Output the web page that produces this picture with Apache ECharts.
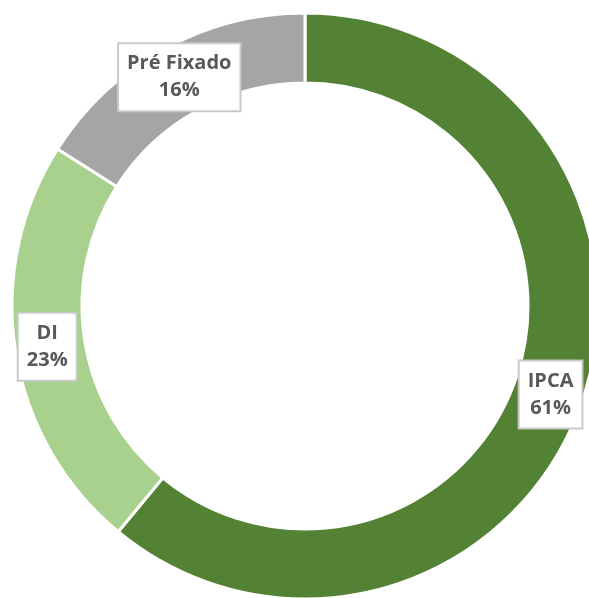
<!DOCTYPE html>
<html>
<head>
<meta charset="utf-8">
<script src="https://cdn.jsdelivr.net/npm/echarts@6/dist/echarts.min.js"></script>
<style>
  html, body { margin: 0; padding: 0; background: #fff; }
  #chart { width: 589px; height: 598px; }
</style>
</head>
<body>
<div id="chart"></div>
<script>
const categories = ["IPCA", "DI", "Pré Fixado"];
const shares = [61, 23, 16];
const colors = ["#548235", "#A9D18E", "#A5A5A5"];

const chart = echarts.init(document.getElementById("chart"));

const option = {
  animation: false,
  series: [
    {
      type: "pie",
      center: [305, 306],
      radius: [223, 293],
      startAngle: 90,
      clockwise: true,
      silent: true,
      itemStyle: {
        borderColor: "#fff",
        borderWidth: 3
      },
      label: {
        show: true,
        position: "inside",
        formatter: p => p.name + "\n" + p.value + "%",
        fontFamily: "Open Sans",
        fontWeight: "bold",
        fontSize: 20,
        lineHeight: 27,
        color: "#595959",
        backgroundColor: "#fff",
        borderColor: "#C9C9C9",
        borderWidth: 2,
        padding: [6, 8, 6, 8],
        align: "center"
      },
      data: categories.map((name, i) => ({
        name: name,
        value: shares[i],
        itemStyle: { color: colors[i] }
      }))
    }
  ]
};

chart.setOption(option);
</script>
</body>
</html>
